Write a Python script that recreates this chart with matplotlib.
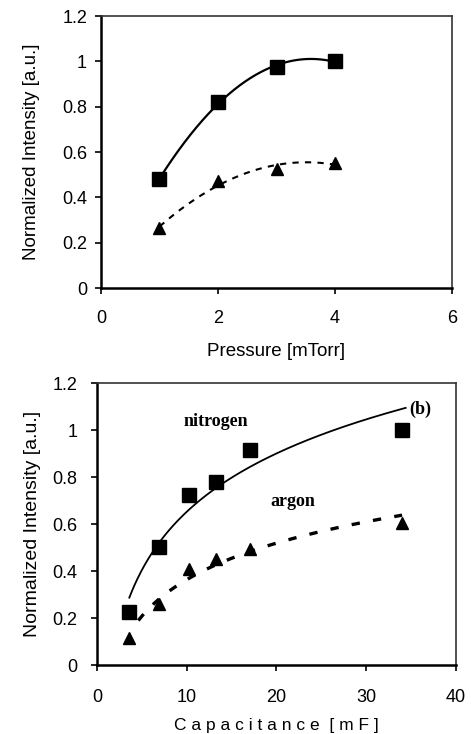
import numpy as np
import matplotlib
matplotlib.use('Agg')
import matplotlib.pyplot as plt

plt.rcParams['font.family'] = ['Liberation Sans', 'DejaVu Sans']

# (a) intensity vs pressure
pressure = [1, 2, 3, 4]
n2_pressure = [0.48, 0.82, 0.975, 1.0]
ar_pressure = [0.265, 0.47, 0.525, 0.55]

# (b) intensity vs capacitance
cap = [3.56, 6.86, 10.27, 13.3, 17.0, 34.0]
n2_cap = [0.227, 0.503, 0.723, 0.779, 0.917, 0.999]
ar_cap = [0.113, 0.259, 0.408, 0.449, 0.493, 0.605]

fig = plt.figure(figsize=(4.71, 7.34), dpi=100)


def style_axes(ax):
    for s in ['left', 'bottom']:
        ax.spines[s].set_linewidth(1.8)
    for s in ['top', 'right']:
        ax.spines[s].set_linewidth(1.2)
        ax.spines[s].set_color('#333333')
    ax.tick_params(direction='out', length=4, width=1.2, labelsize=13)


# ---- top panel
ax1 = fig.add_axes([0.2144, 0.6076, 0.7453, 0.3706])
xs = np.linspace(1, 4, 200)
p_n2 = np.polyfit(pressure, n2_pressure, 2)
p_ar = np.polyfit(pressure, ar_pressure, 2)
ax1.plot(xs, np.polyval(p_n2, xs), color='black', lw=1.6)
ax1.plot(xs, np.polyval(p_ar, xs), color='black', lw=1.5, ls=(0, (3, 3)))
ax1.plot(pressure, n2_pressure, 's', color='black', ms=9.5)
ax1.plot(pressure, ar_pressure, '^', color='black', ms=8.5)
ax1.set_xlim(0, 6)
ax1.set_ylim(0, 1.2)
ax1.set_xticks([0, 2, 4, 6])
ax1.set_yticks([0, 0.2, 0.4, 0.6, 0.8, 1.0, 1.2])
ax1.set_yticklabels(['0', '0.2', '0.4', '0.6', '0.8', '1', '1.2'])
ax1.set_xlabel('Pressure [mTorr]', fontsize=13.5, labelpad=11)
ax1.set_ylabel('Normalized Intensity [a.u.]', fontsize=13.5, labelpad=16)
style_axes(ax1)
ax1.tick_params(axis='x', pad=12)
ax1.tick_params(axis='y', pad=6)

# ---- bottom panel (logarithmic trend lines)
ax2 = fig.add_axes([0.206, 0.094, 0.762, 0.3842])
a_n2 = np.polyfit(np.log(cap), n2_cap, 1)
a_ar = np.polyfit(np.log(cap), ar_cap, 1)
xc = np.linspace(3.6, 34.4, 300)
ax2.plot(xc, np.polyval(a_n2, np.log(xc)), color='black', lw=1.3)
xa = np.linspace(4.6, 34.0, 300)
ax2.plot(xa, np.polyval(a_ar, np.log(xa)), color='black', lw=2.4,
         ls=(0, (2.5, 4)))
ax2.plot(cap, n2_cap, 's', color='black', ms=9.5)
ax2.plot(cap, ar_cap, '^', color='black', ms=8.5)
ax2.set_xlim(0, 40)
ax2.set_ylim(0, 1.2)
ax2.set_xticks([0, 10, 20, 30, 40])
ax2.set_yticks([0, 0.2, 0.4, 0.6, 0.8, 1.0, 1.2])
ax2.set_yticklabels(['0', '0.2', '0.4', '0.6', '0.8', '1', '1.2'])
ax2.set_xlabel('C a p a c i t a n c e  [ m F ]', fontsize=12.5, labelpad=9)
ax2.set_ylabel('Normalized Intensity [a.u.]', fontsize=14, labelpad=8)
style_axes(ax2)
ax2.tick_params(axis='x', pad=13)
ax2.tick_params(axis='y', pad=10)

serif = dict(family='Liberation Serif', fontsize=13, fontweight='bold')
ax2.text(13.2, 1.035, 'nitrogen', ha='center', va='center', **serif)
ax2.text(21.8, 0.695, 'argon', ha='center', va='center', **serif)
ax2.text(36.0, 1.09, '(b)', ha='center', va='center', **serif)

fig.savefig('out.png', dpi=100)
